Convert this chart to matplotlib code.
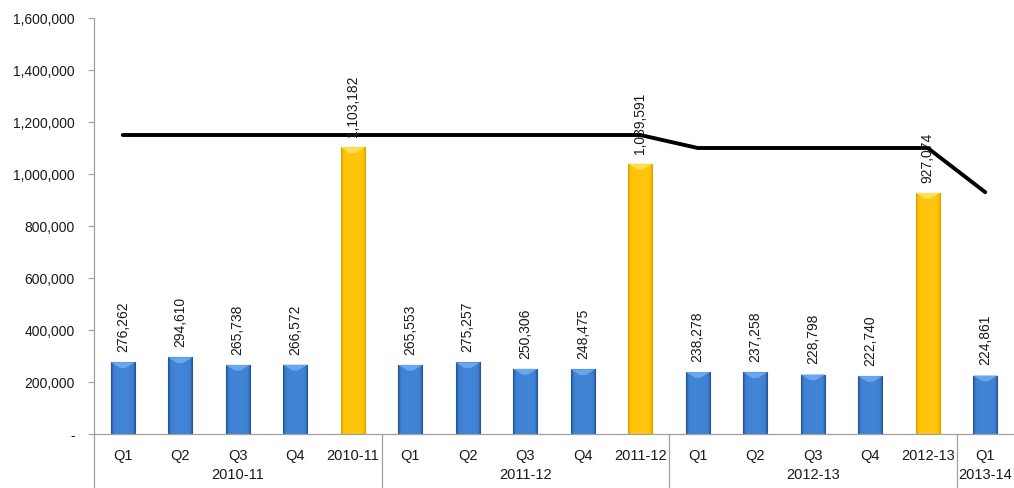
import matplotlib
matplotlib.use("Agg")
import matplotlib.pyplot as plt
import matplotlib.transforms as mtransforms
from matplotlib.ticker import FuncFormatter
from matplotlib.colors import LinearSegmentedColormap
import numpy as np

plt.rcParams['font.family'] = ['Liberation Sans', 'DejaVu Sans']

# ---- data ----
categories = ["Q1", "Q2", "Q3", "Q4", "2010-11",
              "Q1", "Q2", "Q3", "Q4", "2011-12",
              "Q1", "Q2", "Q3", "Q4", "2012-13",
              "Q1"]
values = [276262, 294610, 265738, 266572, 1103182,
          265553, 275257, 250306, 248475, 1039591,
          238278, 237258, 228798, 222740, 927074,
          224861]
is_annual = [False, False, False, False, True,
             False, False, False, False, True,
             False, False, False, False, True,
             False]
target = [1150000, 1150000, 1150000, 1150000, 1150000,
          1150000, 1150000, 1150000, 1150000, 1150000,
          1100000, 1100000, 1100000, 1100000, 1100000,
          930000]
groups = ["2010-11", "2011-12", "2012-13", "2013-14"]
group_sizes = [5, 5, 5, 1]
yticks = [0, 200000, 400000, 600000, 800000, 1000000, 1200000, 1400000, 1600000]

# ---- figure ----
W, H = 1014, 489
fig = plt.figure(figsize=(W / 100, H / 100), dpi=100)
ax_left, ax_right, ax_top, ax_bottom = 94, 1014, 19, 435
ax = fig.add_axes([ax_left / W, (H - ax_bottom) / H,
                   (ax_right - ax_left) / W, (ax_bottom - ax_top) / H])

x = np.arange(len(categories))
bw = 0.42
blue_face = "#3C7DCE"
blue_edge = "#2A5898"
gold_face = "#FFC000"
gold_edge = "#CC9A00"

bars = ax.bar(x, values, width=bw,
              color=[gold_face if a else blue_face for a in is_annual],
              edgecolor=[gold_edge if a else blue_edge for a in is_annual],
              linewidth=0.8, zorder=2)

# bevel shading: darker side strips, lighter top triangle
grad = np.interp(np.linspace(0, 1, 64), [0, 0.16, 0.5, 0.84, 1], [0, 0.85, 1, 0.85, 0])[None, :]
cm_blue = LinearSegmentedColormap.from_list("b", ["#23508F", "#3A7CCD", "#4285D6"])
cm_gold = LinearSegmentedColormap.from_list("g", ["#D9A000", "#FFC000", "#FFC60F"])
bevel_depth = 22000
for b, a in zip(bars, is_annual):
    x0, y0 = b.get_x(), b.get_y()
    w, h = b.get_width(), b.get_height()
    im = ax.imshow(grad, extent=[x0, x0 + w, y0, y0 + h],
                   aspect="auto", cmap=cm_gold if a else cm_blue, zorder=2.1,
                   interpolation="bilinear")
    im.set_clip_path(b)
    top = y0 + h
    ax.fill([x0, x0 + w, x0 + w * 0.62, x0 + w * 0.38],
            [top, top, top - bevel_depth, top - bevel_depth],
            color="#FFDD55" if a else "#6AA6EE", zorder=2.2, linewidth=0)

# target line
ax.plot(x, target, color="black", linewidth=2.8, solid_capstyle="round",
        solid_joinstyle="round", zorder=4)

# data labels
for xi, v in zip(x, values):
    ax.annotate(f"{v:,}", (xi, v), xytext=(0, 8), textcoords="offset points",
                rotation=90, ha="center", va="bottom", fontsize=10,
                color="#1a1a1a", zorder=5)

ax.set_xlim(-0.5, len(categories) - 0.5)
ax.set_ylim(0, 1600000)
ax.set_yticks(yticks)
ax.yaxis.set_major_formatter(FuncFormatter(lambda v, p: "-" if v == 0 else f"{int(v):,}"))
ax.set_xticks(x)
ax.set_xticklabels(categories)
ax.tick_params(axis="x", length=0, pad=10, labelsize=10.5, colors="#1a1a1a")
ax.tick_params(axis="y", length=4, width=0.8, color="#A0A0A0", pad=10,
               labelsize=10, labelcolor="#1a1a1a")

for s in ["top", "right"]:
    ax.spines[s].set_visible(False)
for s in ["left", "bottom"]:
    ax.spines[s].set_color("#A0A0A0")
    ax.spines[s].set_linewidth(0.9)

# group separators and group labels
trans = mtransforms.blended_transform_factory(ax.transData, ax.transAxes)
depth = (H - ax_bottom) / (ax_bottom - ax_top)
bounds = np.cumsum([0] + group_sizes) - 0.5
for bnd in bounds[:-1]:
    ax.plot([bnd, bnd], [0, -depth], transform=trans, color="#A0A0A0",
            linewidth=0.9, clip_on=False)
label_y = -(475 - ax_bottom) / (ax_bottom - ax_top)
for g, lo, hi in zip(groups, bounds[:-1], bounds[1:]):
    ax.text((lo + hi) / 2, label_y, g, transform=trans, ha="center", va="center",
            fontsize=10.5, color="#1a1a1a")

fig.savefig("out.png", dpi=100)
